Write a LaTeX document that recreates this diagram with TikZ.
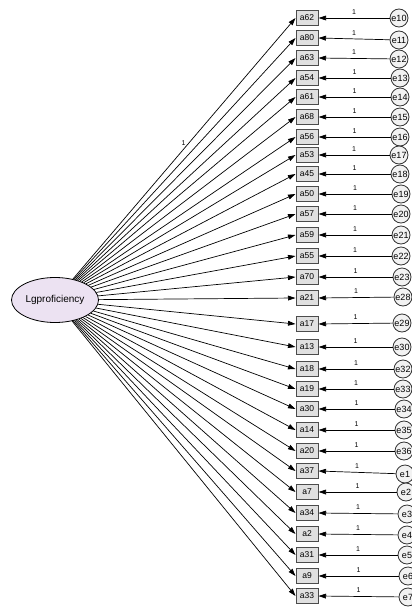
\documentclass[tikz,border=0pt]{standalone}
\usepackage{fontspec}
\setmainfont{Liberation Sans}
\usetikzlibrary{arrows.meta,shapes.geometric}
\begin{document}
\begin{tikzpicture}[x=1pt,y=-1pt,
  obsbox/.style={draw=black!70,line width=1pt,fill=black!12,minimum width=22pt,minimum height=14.5pt,inner sep=0pt,font=\fontsize{8.5}{9}\selectfont},
  errell/.style={draw=black!80,line width=0.8pt,fill=black!5,circle,minimum size=18pt,inner sep=0pt,font=\fontsize{9}{10}\selectfont},
  latent/.style={draw=black,line width=0.8pt,fill={rgb,255:red,236;green,226;blue,242},ellipse,minimum width=87pt,minimum height=45pt,inner sep=0pt,font=\fontsize{10}{12}\selectfont},
  path/.style={line width=0.7pt,black,-{Triangle[length=7.5pt,width=4.8pt]}},
  one/.style={font=\fontsize{7}{8}\selectfont,inner sep=1pt}]
\useasboundingbox (0,0) rectangle (412,608);
\node[latent] (L) at (55,300) {Lgproficiency};
\foreach \a/\y/\e/\ey/\ex in {
 a62/18/e10/18/399, a80/38/e11/40/399, a63/58/e12/59/399, a54/78/e13/78/400,
 a61/97/e14/97/400, a68/117/e15/117/400, a56/137/e16/137/400, a53/155/e17/155/399,
 a45/174/e18/174/400, a50/194/e19/194/401, a57/214/e20/214/401, a59/235/e21/235/401,
 a55/256/e22/256/401, a70/277/e23/277/402, a21/298/e28/297/403, a17/324/e29/323/402,
 a13/347/e30/347/402, a18/369/e32/369/403, a19/389/e33/389/403, a30/409/e34/409/404,
 a14/430/e35/430/404, a20/451/e36/451/404, a37/471/e1/474/405, a7/492/e2/492/406,
 a34/513/e3/514/407, a2/534/e4/535/407, a31/555/e5/555/407, a9/576/e6/576/408,
 a33/596/e7/597/408}{
  \node[obsbox] (\a) at (307,\y) {\a};
  \node[errell] (\e) at (\ex,\ey) {\e};
  \draw[path] (L) -- (\a.west);
  \draw[path] (\e) -- (\a.east) node[one,midway,above=2.5pt] {1};
}
\path (L) -- (a62.west) node[one,pos=0.52,left=2pt] {1};
\end{tikzpicture}
\end{document}
